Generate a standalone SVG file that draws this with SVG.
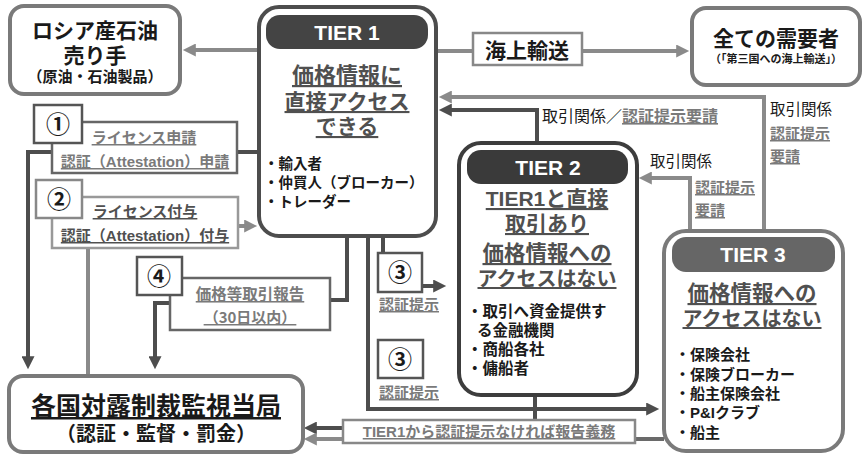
<svg xmlns="http://www.w3.org/2000/svg" width="865" height="455" viewBox="0 0 865 455">
<style>
.t{font-family:"Liberation Sans","Noto Sans CJK JP",sans-serif;font-weight:bold}
.j{font-family:"Noto Sans CJK JP",sans-serif;font-weight:bold}
.jn{font-family:"Noto Sans CJK JP",sans-serif;font-weight:normal}
.u{text-decoration:underline}
.c{text-anchor:middle}
.blk{fill:#1a1a1a}
.hd{fill:#505050}
.lb{fill:#7a7a7a}
.wh{fill:#ffffff}
.gbox{fill:#fff;stroke:#7a7a7a;stroke-width:4}
.dk{fill:none;stroke:#4d4d4d;stroke-width:4}
.lt{fill:none;stroke:#8a8a8a;stroke-width:4}
.md{fill:none;stroke:#6a6a6a;stroke-width:4}
.sq{fill:#fff;stroke:#555;stroke-width:2.5}
.sql{fill:#fff;stroke:#888;stroke-width:2.5}
.lbox{fill:#fff;stroke:#666;stroke-width:2.5}
.lboxl{fill:#fff;stroke:#999;stroke-width:2.5}
</style>
<defs>
<marker id="ad" viewBox="0 0 10 10" refX="6" refY="5" markerWidth="14" markerHeight="13" markerUnits="userSpaceOnUse" orient="auto"><path d="M0,0 L10,5 L0,10 z" fill="#4d4d4d"/></marker>
<marker id="al" viewBox="0 0 10 10" refX="6" refY="5" markerWidth="14" markerHeight="13" markerUnits="userSpaceOnUse" orient="auto"><path d="M0,0 L10,5 L0,10 z" fill="#8a8a8a"/></marker>
</defs>

<g id="connectors">
<path class="lt" d="M259,50 H188" marker-end="url(#al)"/>
<path class="lt" d="M436,51 H473"/>
<path class="lt" d="M582,51 H684" marker-end="url(#al)"/>
<path class="lt" d="M764,232 V97 H444" marker-end="url(#al)"/>
<path class="lt" d="M690,232 V178 H644" marker-end="url(#al)"/>
<path class="lt" d="M238,226 H252" marker-end="url(#al)"/>
<path class="lt" d="M88,248 V376"/>
<path class="dk" d="M537,143 V110 H444" marker-end="url(#ad)"/>
<path class="dk" d="M258,152 H237"/>
<path class="dk" d="M52,152 H28 V364" marker-end="url(#ad)"/>
<path class="dk" d="M347,236 V300 H330"/>
<path class="dk" d="M170,303 H155 V364" marker-end="url(#ad)"/>
<path class="dk" d="M383,236 V253"/>
<path class="dk" d="M422,286 H441" marker-end="url(#ad)"/>
<path class="dk" d="M368,236 V409 H654" marker-end="url(#ad)"/>
<path class="dk" d="M535,395 V420"/>
<path class="md" d="M635,439 H664"/>
<path class="dk" d="M343,428 H309" marker-end="url(#ad)"/>
<path class="lt" d="M343,439 H309" marker-end="url(#al)"/>
</g>

<g id="seller">
<rect class="gbox" x="10" y="6" width="170" height="88" rx="14"/>
<text class="j c blk" x="95" y="38" font-size="21">ロシア産石油<tspan x="95" dy="25">売り手</tspan><tspan x="95" dy="19" font-size="15">（原油・石油製品）</tspan></text>
</g>

<g id="tier1">
<rect x="259" y="7" width="177" height="229" rx="20" fill="#fff" stroke="#4d4d4d" stroke-width="4"/>
<rect x="266" y="15" width="162" height="34" rx="14" fill="#444"/>
<text class="t c wh" x="347" y="40" font-size="21">TIER 1</text>
<text class="j c hd u" x="347" y="83" font-size="22">価格情報に<tspan x="347" dy="26" font-size="21">直接アクセス</tspan><tspan x="347" dy="25" font-size="21">できる</tspan></text>
<text class="j blk" x="264" y="169" font-size="14.5">・輸入者<tspan x="264" dy="19">・仲買人（ブローカー）</tspan><tspan x="264" dy="19">・トレーダー</tspan></text>
</g>

<g id="sea">
<rect x="473" y="33" width="109" height="32" fill="#fff" stroke="#888" stroke-width="2.5"/>
<text class="j c blk" x="527" y="58" font-size="21">海上輸送</text>
</g>

<g id="demand">
<rect class="gbox" x="692" y="8" width="168" height="77" rx="14"/>
<text class="j c blk" x="776" y="46" font-size="21">全ての需要者<tspan x="776" dy="17" font-size="11">（「第三国への海上輸送」）</tspan></text>
</g>

<g id="step1">
<rect class="lbox" x="52" y="122" width="185" height="51"/>
<rect class="sq" x="34" y="105" width="48" height="38"/>
<text class="j c blk" x="58" y="133" font-size="24">①</text>
<text class="t c lb u" x="144" y="143" font-size="15">ライセンス申請<tspan x="145" dy="24">認証（Attestation）申請</tspan></text>
</g>

<g id="step2">
<rect class="lboxl" x="52" y="197" width="186" height="51"/>
<rect class="sql" x="36" y="180" width="46" height="38"/>
<text class="j c blk" x="59" y="208" font-size="24">②</text>
<text class="t c hd u" x="145" y="217" font-size="15">ライセンス付与<tspan x="145" dy="24">認証（Attestation）付与</tspan></text>
</g>

<g id="step4">
<rect class="lbox" x="170" y="278" width="160" height="52"/>
<rect class="sq" x="137" y="257" width="45" height="38"/>
<text class="j c blk" x="159" y="285" font-size="24">④</text>
<text class="j c lb u" x="250" y="300" font-size="15.5">価格等取引報告<tspan x="250" dy="23" font-size="15">（30日以内）</tspan></text>
</g>

<g id="step3a">
<rect class="sq" x="378" y="253" width="44" height="39"/>
<text class="j c blk" x="400" y="281" font-size="24">③</text>
<text class="j c lb u" x="409" y="310" font-size="15">認証提示</text>
</g>

<g id="step3b">
<rect class="sq" x="378" y="340" width="45" height="38"/>
<text class="j c blk" x="400" y="368" font-size="24">③</text>
<text class="j c lb u" x="409" y="398" font-size="15">認証提示</text>
</g>

<g id="tier2">
<rect x="459" y="143" width="178" height="252" rx="22" fill="#fff" stroke="#3d3d3d" stroke-width="4"/>
<rect x="467" y="150" width="161" height="34" rx="14" fill="#3a3a3a"/>
<text class="t c wh" x="548" y="175" font-size="21">TIER 2</text>
<text class="t c hd u" x="547" y="206" font-size="21">TIER1と直接<tspan x="547" dy="25">取引あり</tspan><tspan x="547" dy="30" font-size="21.5">価格情報への</tspan><tspan x="547" dy="25" font-size="20">アクセスはない</tspan></text>
<text class="j blk" x="467" y="317" font-size="15.5">・取引へ資金提供す<tspan x="477" dy="19">る金融機関</tspan><tspan x="467" dy="19">・商船各社</tspan><tspan x="467" dy="19">・傭船者</tspan></text>
</g>

<g id="tier3">
<rect x="664" y="231" width="179" height="220" rx="22" fill="#fff" stroke="#7a7a7a" stroke-width="4"/>
<rect x="672" y="237" width="163" height="35" rx="14" fill="#666"/>
<text class="t c wh" x="753" y="262" font-size="21">TIER 3</text>
<text class="j c hd u" x="752" y="301" font-size="21.5">価格情報への<tspan x="752" dy="25" font-size="20">アクセスはない</tspan></text>
<text class="t blk" x="675" y="360" font-size="15">・保険会社<tspan x="675" dy="20">・保険ブローカー</tspan><tspan x="675" dy="19">・船主保険会社</tspan><tspan x="675" dy="19">・P&amp;Iクラブ</tspan><tspan x="675" dy="20">・船主</tspan></text>
</g>

<g id="regulator">
<rect class="gbox" x="9" y="376" width="294" height="76" rx="14"/>
<text class="j c blk" x="156" y="415" font-size="25"><tspan class="u">各国対露制裁監視当局</tspan><tspan x="156" dy="26" font-size="20">（認証・監督・罰金）</tspan></text>
</g>

<g id="report">
<rect x="343" y="420" width="292" height="23" fill="#fff" stroke="#888" stroke-width="2.5"/>
<text class="t c lb u" x="489" y="437" font-size="15">TIER1から認証提示なければ報告義務</text>
</g>

<g id="labels">
<text class="jn blk" x="542" y="122" font-size="16">取引関係／<tspan class="j lb u">認証提示要請</tspan></text>
<text class="jn blk" x="650" y="167" font-size="15.5">取引関係<tspan class="j lb u" x="695" dy="26" font-size="15">認証提示</tspan><tspan class="j lb u" x="695" dy="23" font-size="15">要請</tspan></text>
<text class="jn blk" x="770" y="115" font-size="15.5">取引関係<tspan class="j lb u" x="770" dy="24" font-size="15">認証提示</tspan><tspan class="j lb u" x="770" dy="23" font-size="15">要請</tspan></text>
</g>
</svg>
